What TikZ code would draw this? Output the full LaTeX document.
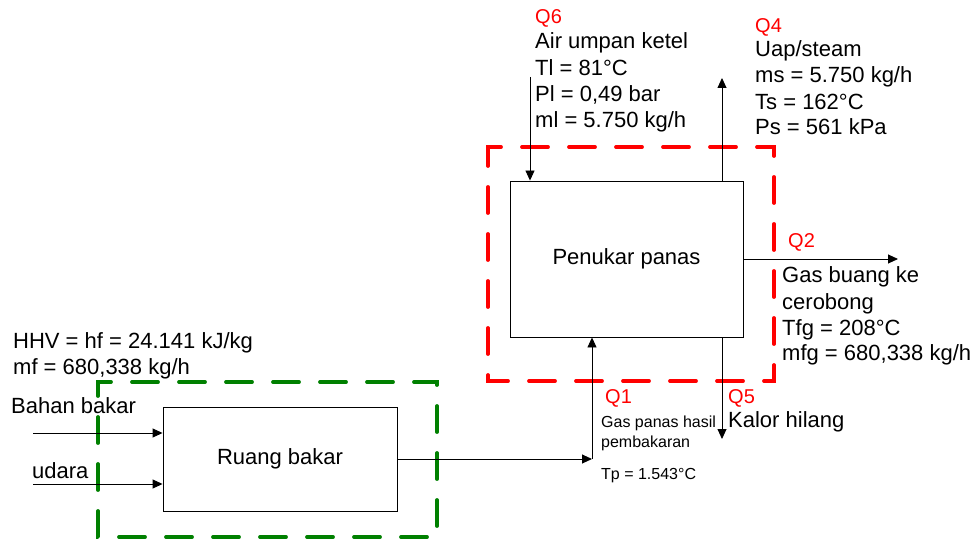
\documentclass[tikz,border=0pt]{standalone}
\usepackage{fontspec}
\setmainfont{Liberation Sans}
\usetikzlibrary{arrows.meta}
\definecolor{qred}{RGB}{255,0,0}
\definecolor{bgreen}{RGB}{0,128,0}
\tikzset{
  txt/.style={anchor=base west,inner sep=0pt,font=\fontsize{22}{26}\selectfont},
  small/.style={anchor=base west,inner sep=0pt,font=\fontsize{16}{20}\selectfont},
  qlbl/.style={anchor=base west,inner sep=0pt,text=qred,font=\fontsize{20}{24}\selectfont},
  unit/.style={draw,line width=0.9pt,font=\fontsize{22}{26}\selectfont,inner sep=0pt},
  flow/.style={line width=0.9pt,-{Triangle[length=10pt,width=9pt]}},
  bound/.style={line width=3.8pt,line cap=round,dash pattern=on 26pt off 21pt},
}
\begin{document}
\begin{tikzpicture}[x=1pt,y=-1pt]
\useasboundingbox (0,0) rectangle (975,540);
% boxes
\node[unit,minimum width=233pt,minimum height=156pt] (pp) at (626.5,259) {Penukar panas};
\node[unit,minimum width=234pt,minimum height=104pt] (rb) at (280,459) {Ruang bakar};
% boundaries
\draw[bound,qred] (488,160) -- (488,147) -- (774,147) -- (774,381) -- (488,381) -- cycle;
\draw[bound,bgreen] (98,395) -- (98,382) -- (437,382) -- (437,537) -- (98,537) -- cycle;
% free ends
\coordinate (q6s) at (530,77);
\coordinate (q4e) at (722,78);
\coordinate (q2e) at (898,259);
\coordinate (q5e) at (722,439);
\coordinate (bbs) at (33,433);
\coordinate (uds) at (33,484);
\coordinate (j) at (592,459);
% connectors
\draw[flow] (q6s) -- (q6s |- pp.north);
\draw[flow] (pp.north -| q4e) -- (q4e);
\draw[flow] (pp.east) -- (q2e);
\draw[flow] (pp.south -| q5e) -- (q5e);
\draw[flow] (bbs) -- (bbs -| rb.west);
\draw[flow] (uds) -- (uds -| rb.west);
\draw[flow] (rb.east) -- (j);
\draw[flow] (j) -- (j |- pp.south);
% labels
\node[qlbl] (q6) at (535,24) {Q6};
\node[txt] (q6a) at (535,49) {Air umpan ketel};
\node[txt] (q6b) at (535,76) {Tl = 81°C};
\node[txt] (q6c) at (535,102) {Pl = 0,49 bar};
\node[txt] (q6d) at (535,128) {ml = 5.750 kg/h};
\node[qlbl] (q4) at (755,33) {Q4};
\node[txt] (q4a) at (755,57) {Uap/steam};
\node[txt] (q4b) at (755,83) {ms = 5.750 kg/h};
\node[txt] (q4c) at (755,110) {Ts = 162°C};
\node[txt] (q4d) at (755,135) {Ps = 561 kPa};
\node[qlbl] (q2) at (788,248) {Q2};
\node[txt] (q2a) at (782,283) {Gas buang ke};
\node[txt] (q2b) at (782,309) {cerobong};
\node[txt] (q2c) at (782,335) {Tfg = 208°C};
\node[txt] (q2d) at (782,360) {mfg = 680,338 kg/h};
\node[qlbl] (q5) at (728,403) {Q5};
\node[txt] (q5a) at (728,427) {Kalor hilang};
\node[qlbl] (q1) at (605,403) {Q1};
\node[small] (q1a) at (601,427) {Gas panas hasil};
\node[small] (q1b) at (601,447) {pembakaran};
\node[small] (q1c) at (601,479) {Tp = 1.543°C};
\node[txt] (hhv) at (13,348) {HHV = hf = 24.141 kJ/kg};
\node[txt] (mf) at (13,374) {mf = 680,338 kg/h};
\node[txt] (bb) at (11,413) {Bahan bakar};
\node[txt] (ud) at (32,478) {udara};
\end{tikzpicture}
\end{document}
